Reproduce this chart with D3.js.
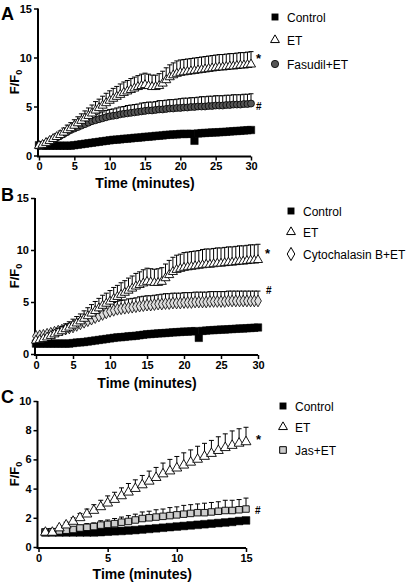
<!DOCTYPE html>
<html><head><meta charset="utf-8">
<script src="https://cdn.jsdelivr.net/npm/d3@7"></script>
<style>body{margin:0;background:#fff}svg{display:block}text{font-family:"Liberation Sans",Arial,sans-serif}</style>
</head><body>
<script>
// ---------- DATA ----------
const timesAB = d3.range(0, 30.01, 0.5);   // sampling times, minutes
const timesC  = d3.range(0.5, 15.01, 0.5);

const A_control = [1.05,1.0,1.0,1.0,1.0,1.0,1.0,1.0,1.0,1.0,1.05,
  1.1,1.15,1.2,1.25,1.3,1.35,1.4,1.45,1.5,1.55,
  1.6,1.62,1.65,1.7,1.72,1.75,1.8,1.82,1.85,1.9,
  1.92,1.95,2.0,2.02,2.05,2.1,2.12,2.15,2.15,2.2,
  2.2,2.2,2.22,1.5,2.25,2.28,2.3,2.32,2.35,2.35,
  2.38,2.4,2.42,2.45,2.48,2.5,2.52,2.55,2.58,2.6];
const A_control_err = [0.1,0.1,0.1,0.1,0.1,0.1,0.1,0.1,0.1,0.1,0.1,
  0.1,0.1,0.1,0.1,0.12,0.12,0.12,0.12,0.15,0.15,
  0.15,0.15,0.15,0.15,0.18,0.18,0.18,0.2,0.2,0.2,
  0.2,0.2,0.2,0.22,0.22,0.22,0.25,0.25,0.25,0.25,
  0.25,0.25,0.25,0.1,0.25,0.25,0.25,0.25,0.25,0.25,
  0.25,0.25,0.25,0.25,0.25,0.25,0.25,0.25,0.25,0.25];
const A_et = [1.0,1.1,1.3,1.5,1.7,1.9,2.1,2.35,2.6,2.8,3.05,
  3.3,3.55,3.8,4.05,4.3,4.6,4.85,5.1,5.35,5.6,
  5.8,6.0,6.2,6.4,6.55,6.7,6.85,7.0,7.1,7.2,
  7.1,7.0,7.0,7.1,7.35,7.7,8.0,8.2,8.35,8.45,
  8.5,8.55,8.6,8.65,8.7,8.75,8.8,8.85,8.9,8.95,
  9.0,9.0,9.05,9.1,9.1,9.15,9.2,9.2,9.25,9.3];
const A_et_err = [0.1,0.15,0.2,0.25,0.3,0.35,0.4,0.45,0.5,0.55,0.6,
  0.65,0.7,0.75,0.8,0.85,0.9,0.9,0.95,1.0,1.0,
  1.05,1.05,1.1,1.1,1.1,1.15,1.15,1.15,1.2,1.2,
  1.2,1.2,1.2,1.25,1.25,1.25,1.25,1.25,1.3,1.3,
  1.3,1.3,1.3,1.3,1.3,1.3,1.3,1.3,1.3,1.3,
  1.3,1.3,1.3,1.3,1.3,1.3,1.3,1.3,1.3,1.3];
const A_fasudil = [1.0,1.1,1.25,1.4,1.6,1.8,2.0,2.2,2.4,2.6,2.75,
  2.9,3.05,3.2,3.35,3.5,3.6,3.7,3.8,3.9,4.0,
  4.05,4.1,4.2,4.25,4.3,4.35,4.4,4.45,4.5,4.55,
  4.6,4.6,4.65,4.7,4.7,4.75,4.8,4.8,4.85,4.85,
  4.9,4.9,4.95,4.95,5.0,5.0,5.0,5.05,5.05,5.1,
  5.1,5.1,5.15,5.15,5.2,5.2,5.2,5.25,5.25,5.3];
const A_fasudil_err = [0.1,0.1,0.15,0.15,0.2,0.2,0.25,0.25,0.3,0.35,0.4,
  0.45,0.5,0.5,0.55,0.6,0.6,0.65,0.65,0.7,0.7,
  0.7,0.75,0.75,0.75,0.8,0.8,0.8,0.8,0.85,0.85,
  0.85,0.85,0.85,0.9,0.9,0.9,0.9,0.9,0.9,0.95,
  0.95,0.95,0.95,0.95,0.95,1.0,1.0,1.0,1.0,1.0,
  1.0,1.0,1.0,1.0,1.0,1.0,1.0,1.0,1.0,1.0];

const B_control = [1.0,1.0,1.0,1.0,1.0,1.0,1.0,1.0,1.0,1.0,1.05,
  1.1,1.12,1.15,1.2,1.25,1.3,1.35,1.4,1.45,1.5,
  1.55,1.6,1.62,1.65,1.7,1.72,1.75,1.8,1.85,1.9,
  1.92,1.95,1.98,2.0,2.02,2.05,2.08,2.1,2.12,2.15,
  2.15,2.18,2.2,1.55,2.22,2.25,2.28,2.3,2.32,2.35,
  2.35,2.38,2.4,2.42,2.45,2.45,2.48,2.5,2.52,2.55];
const B_control_err = [0.1,0.1,0.1,0.1,0.1,0.1,0.1,0.1,0.1,0.1,0.1,
  0.1,0.1,0.1,0.12,0.12,0.12,0.12,0.15,0.15,0.15,
  0.15,0.15,0.18,0.18,0.18,0.2,0.2,0.2,0.2,0.2,
  0.2,0.22,0.22,0.22,0.25,0.25,0.25,0.25,0.25,0.25,
  0.25,0.25,0.25,0.1,0.25,0.25,0.25,0.25,0.25,0.25,
  0.25,0.25,0.25,0.25,0.25,0.25,0.25,0.25,0.25,0.25];
const B_et = [1.3,1.35,1.45,1.6,1.75,1.9,2.05,2.2,2.4,2.55,2.75,
  2.95,3.15,3.4,3.65,3.9,4.15,4.4,4.65,4.85,5.05,
  5.3,5.5,5.7,5.9,6.1,6.3,6.5,6.65,6.8,6.95,
  6.9,6.85,6.85,6.95,7.3,7.6,7.9,8.1,8.2,8.3,
  8.35,8.4,8.45,8.5,8.55,8.6,8.6,8.65,8.7,8.7,
  8.75,8.8,8.8,8.85,8.9,8.9,8.95,9.0,9.0,9.05];
const B_et_err = [0.1,0.15,0.2,0.25,0.3,0.35,0.4,0.45,0.5,0.55,0.6,
  0.65,0.7,0.75,0.8,0.85,0.9,0.95,1.0,1.0,1.05,
  1.1,1.1,1.15,1.15,1.2,1.2,1.25,1.25,1.3,1.3,
  1.3,1.3,1.35,1.35,1.35,1.4,1.4,1.4,1.4,1.45,
  1.45,1.45,1.45,1.45,1.5,1.5,1.5,1.5,1.5,1.5,
  1.5,1.5,1.5,1.5,1.5,1.5,1.5,1.5,1.5,1.5];
const B_cyto = [1.7,1.75,1.8,1.9,2.0,2.1,2.2,2.3,2.4,2.5,2.6,
  2.75,2.9,3.05,3.2,3.35,3.5,3.65,3.8,3.95,4.1,
  4.2,4.3,4.35,4.4,4.45,4.5,4.55,4.6,4.65,4.7,
  4.7,4.75,4.8,4.8,4.85,4.85,4.9,4.9,4.9,4.95,
  4.95,4.95,5.0,5.0,5.0,5.0,5.05,5.05,5.05,5.05,
  5.05,5.1,5.1,5.1,5.1,5.1,5.1,5.1,5.1,5.1];
const B_cyto_err = [0.15,0.15,0.2,0.2,0.25,0.25,0.3,0.3,0.35,0.4,0.45,
  0.5,0.5,0.55,0.6,0.6,0.65,0.65,0.7,0.7,0.75,
  0.75,0.8,0.8,0.8,0.85,0.85,0.85,0.9,0.9,0.9,
  0.9,0.9,0.9,0.95,0.95,0.95,0.95,0.95,0.95,0.95,
  0.95,0.95,0.95,0.95,0.95,0.95,0.95,0.95,0.95,0.95,
  0.95,0.95,0.95,0.95,0.95,0.95,0.95,0.95,0.95,0.95];

const C_control = [1.0,1.0,1.0,1.0,1.0,1.0,1.0,1.0,1.02,1.05,
  1.08,1.1,1.13,1.16,1.2,1.24,1.28,1.32,1.36,1.4,
  1.44,1.48,1.52,1.56,1.6,1.64,1.68,1.72,1.78,1.82];
const C_control_err = [0.05,0.05,0.05,0.05,0.05,0.05,0.05,0.05,0.05,0.05,
  0.06,0.06,0.06,0.07,0.07,0.07,0.08,0.08,0.08,0.08,
  0.1,0.1,0.1,0.1,0.1,0.1,0.1,0.1,0.1,0.1];
const C_et = [1.0,1.0,1.3,1.5,1.75,2.0,2.25,2.5,2.75,3.0,
  3.25,3.5,3.75,4.0,4.25,4.5,4.75,5.0,5.2,5.4,
  5.6,5.8,6.0,6.2,6.4,6.6,6.8,6.95,7.1,7.2];
const C_et_err = [0.05,0.05,0.15,0.2,0.25,0.3,0.35,0.4,0.45,0.5,
  0.5,0.55,0.6,0.6,0.65,0.7,0.7,0.75,0.8,0.8,
  0.85,0.85,0.9,0.9,0.9,0.95,0.95,1.0,1.0,1.0];
const C_jas = [1.0,1.05,1.1,1.15,1.2,1.3,1.35,1.4,1.5,1.55,
  1.6,1.7,1.75,1.85,1.95,2.0,2.05,2.1,2.15,2.2,
  2.25,2.3,2.35,2.35,2.4,2.45,2.5,2.5,2.55,2.6];
const C_jas_err = [0.05,0.05,0.1,0.1,0.15,0.2,0.25,0.25,0.3,0.3,
  0.35,0.35,0.4,0.4,0.45,0.45,0.5,0.5,0.55,0.55,
  0.6,0.6,0.6,0.65,0.65,0.65,0.7,0.7,0.7,0.75];

const yTicksA = [0,5,10,15], yTicksB = [0,5,10,15], yTicksC = [0,2,4,6,8,10];
const xTicksAB = [0,5,10,15,20,25,30], xTicksC = [0,5,10,15];

// ---------- DRAW ----------
const svg = d3.select("body").append("svg").attr("width",418).attr("height",582);

function markerPath(shape, size){
  const sym = {square:d3.symbolSquare, triangle:d3.symbolTriangle, circle:d3.symbolCircle, diamond:d3.symbolDiamond}[shape];
  return d3.symbol().type(sym).size(size)();
}

function panel(cfg){
  const g = svg.append("g");
  const x = d3.scaleLinear().domain(cfg.xDom).range(cfg.xRange);
  const y = d3.scaleLinear().domain(cfg.yDom).range(cfg.yRange);
  const ya = g.append("g").attr("transform",`translate(${cfg.xRange[0]-1},0)`)
    .call(d3.axisLeft(y).tickValues(cfg.yTicks).tickSize(4).tickPadding(2));
  ya.select(".domain").attr("stroke","#000").attr("stroke-width",2).attr("d",`M0,${cfg.yRange[1]}V${cfg.yRange[0]+1}`);
  ya.selectAll(".tick line").attr("stroke-width",1.5);
  ya.selectAll(".tick text").attr("font-size",11).attr("font-weight","bold").attr("font-family","Liberation Sans, Arial");
  const xa = g.append("g").attr("transform",`translate(0,${cfg.yRange[0]+1})`)
    .call(d3.axisBottom(x).tickValues(cfg.xTicks).tickSize(4).tickPadding(2));
  xa.select(".domain").attr("stroke","#000").attr("stroke-width",2).attr("d",`M${cfg.xRange[0]-2},0H${cfg.xRange[1]}`);
  xa.selectAll(".tick line").attr("stroke-width",1.5);
  xa.selectAll(".tick text").attr("font-size",11).attr("font-weight","bold").attr("font-family","Liberation Sans, Arial");
  g.append("text").attr("x",(cfg.xRange[0]+cfg.xRange[1])/2).attr("y",cfg.xLabelY)
    .attr("text-anchor","middle").attr("font-size",14).attr("font-weight","bold").text("Time (minutes)");
  const yl = g.append("text").attr("transform",`translate(${cfg.yLabelX},${(cfg.yRange[0]+cfg.yRange[1])/2}) rotate(-90)`)
    .attr("text-anchor","middle").attr("font-size",13).attr("font-weight","bold");
  yl.append("tspan").text("F/F");
  yl.append("tspan").attr("font-size",9).attr("dy",3).text("0");
  g.append("text").attr("x",cfg.letterPos[0]).attr("y",cfg.letterPos[1]).attr("font-size",18)
    .attr("font-weight","bold").text(cfg.letter);
  cfg.series.forEach(s=>{
    const pts = cfg.times.map((t,i)=>({t, v:s.values[i], e:s.err[i]}));
    const eb = g.append("g").attr("stroke","#000").attr("stroke-width",1).attr("fill","none");
    eb.selectAll("path").data(pts).join("path")
      .attr("d",d=>{const xx=x(d.t), y0=y(d.v), y1=y(d.v+d.e);
        return `M${xx},${y0}V${y1}M${xx-2.5},${y1}H${xx+2.5}`;});
    g.append("g").selectAll("path").data(pts).join("path")
      .attr("transform",d=>`translate(${x(d.t)},${y(d.v)})`)
      .attr("d",markerPath(s.shape,s.size))
      .attr("fill",s.fill).attr("stroke","#000").attr("stroke-width",s.sw);
  });
  cfg.marks.forEach(m=>{
    g.append("text").attr("x",m.x).attr("y",m.y).attr("font-size",m.fs).attr("font-weight","bold").attr("fill","#000").text(m.t);
  });
  const lg = g.append("g");
  cfg.legend.forEach((s,i)=>{
    const ly = cfg.legendY[i];
    lg.append("path").attr("transform",`translate(${cfg.legendX},${ly})`)
      .attr("d",markerPath(s.shape,s.lsize)).attr("fill",s.fill).attr("stroke","#000").attr("stroke-width",s.lsw);
    lg.append("text").attr("x",cfg.legendX+12).attr("y",ly+4.5).attr("font-size",12).text(s.name);
  });
}

const ctrl = {name:"Control", shape:"square", size:56, fill:"#000", sw:0.5, lsize:48, lsw:0};
const etS  = {name:"ET", shape:"triangle", size:36, fill:"#fff", sw:0.9, lsize:34, lsw:1};

panel({
  letter:"A", letterPos:[1,20],
  xDom:[0,30], xRange:[39,251], yDom:[0,15], yRange:[155.5,8.5],
  xTicks:xTicksAB, yTicks:yTicksA, xLabelY:188, yLabelX:19, times:timesAB,
  series:[
    Object.assign({},ctrl,{values:A_control, err:A_control_err}),
    {shape:"circle", size:38, fill:"#555", sw:0.8, values:A_fasudil, err:A_fasudil_err},
    Object.assign({},etS,{values:A_et, err:A_et_err})
  ],
  marks:[{x:256,y:63,t:"*",fs:13},{x:256,y:110,t:"#",fs:10}],
  legend:[ctrl, etS, {name:"Fasudil+ET", shape:"circle", fill:"#555", lsize:42, lsw:0.8}],
  legendX:275, legendY:[17,40,64]
});

panel({
  letter:"B", letterPos:[1,201],
  xDom:[0,30], xRange:[36,258], yDom:[0,15], yRange:[354,198],
  xTicks:xTicksAB, yTicks:yTicksB, xLabelY:388, yLabelX:19, times:timesAB,
  series:[
    Object.assign({},ctrl,{values:B_control, err:B_control_err}),
    {shape:"diamond", size:40, fill:"#ddd", sw:0.8, values:B_cyto, err:B_cyto_err},
    Object.assign({},etS,{values:B_et, err:B_et_err})
  ],
  marks:[{x:265,y:258,t:"*",fs:13},{x:266,y:294,t:"#",fs:10}],
  legend:[ctrl, etS, {name:"Cytochalasin B+ET", shape:"diamond", fill:"#fff", lsize:50, lsw:1}],
  legendX:291, legendY:[211,232,254]
});

panel({
  letter:"C", letterPos:[1,403],
  xDom:[0,15], xRange:[38.5,246], yDom:[0,10], yRange:[547,401],
  xTicks:xTicksC, yTicks:yTicksC, xLabelY:579, yLabelX:19, times:timesC,
  series:[
    Object.assign({},ctrl,{values:C_control, err:C_control_err, size:60}),
    {shape:"square", size:42, fill:"#ccc", sw:0.9, values:C_jas, err:C_jas_err},
    Object.assign({},etS,{values:C_et, err:C_et_err, size:42})
  ],
  marks:[{x:256,y:444,t:"*",fs:13},{x:255,y:514,t:"#",fs:10}],
  legend:[ctrl, etS, {name:"Jas+ET", shape:"square", fill:"#ccc", lsize:44, lsw:1}],
  legendX:283, legendY:[406,427,450]
});
</script>
</body></html>
